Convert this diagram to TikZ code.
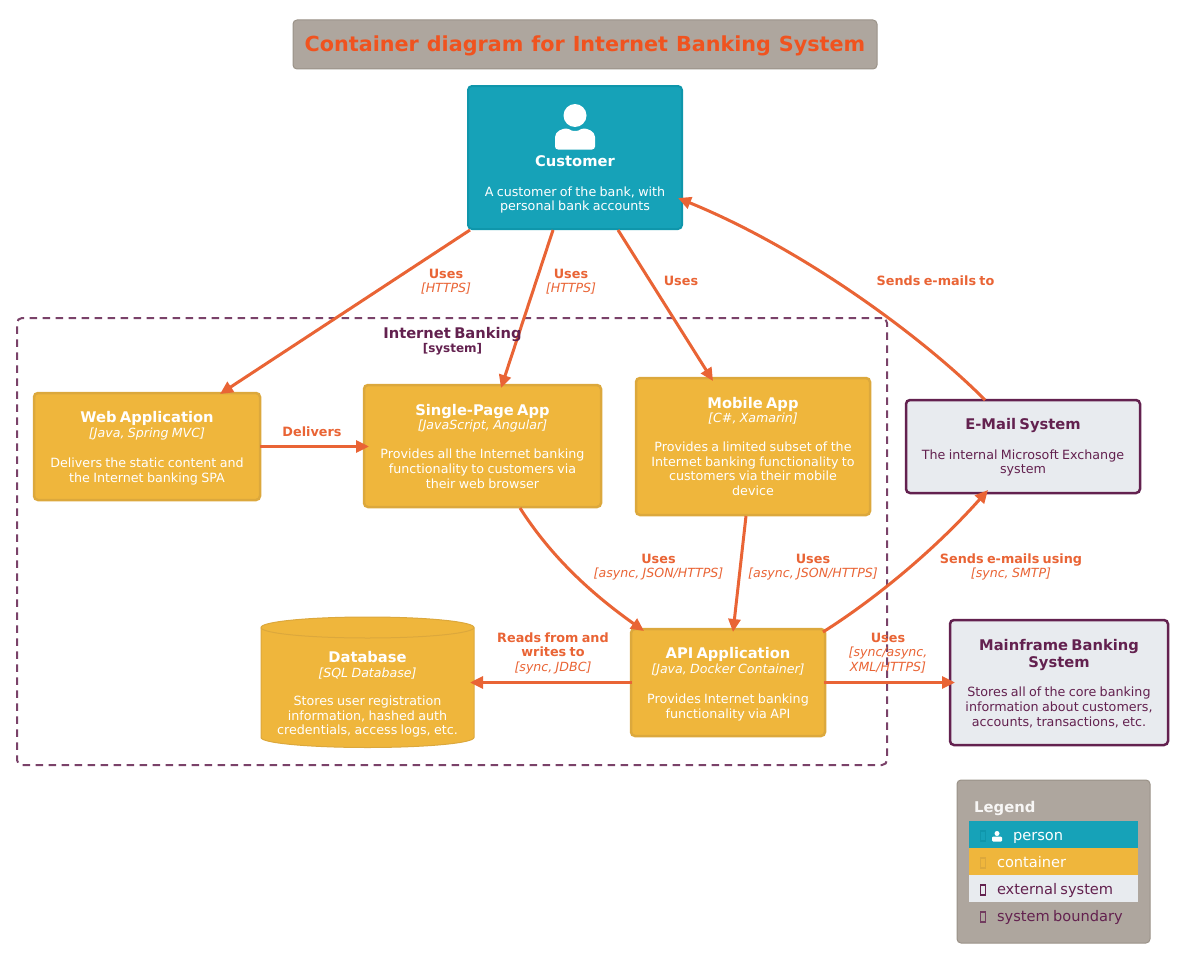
\documentclass[tikz,border=0pt]{standalone}
\usepackage{fontspec}
\setmainfont{DejaVu Sans}[WordSpace=1.1]
\usetikzlibrary{arrows.meta,calc}
\definecolor{teal}{HTML}{16A2B8}
\definecolor{tealb}{HTML}{0F96AB}
\definecolor{gold}{HTML}{EFB63C}
\definecolor{goldb}{HTML}{DCA83C}
\definecolor{ext}{HTML}{E8EBEF}
\definecolor{plum}{HTML}{63214F}
\definecolor{taupe}{HTML}{AEA69E}
\definecolor{taupeb}{HTML}{9A9288}
\definecolor{rust}{HTML}{F0531F}
\definecolor{edge}{HTML}{E96435}
\newcommand{\ttl}[1]{{\fontsize{14.7}{17}\selectfont\bfseries #1\par}}
\newcommand{\tech}[1]{{\fontsize{12.6}{14.5}\selectfont\itshape #1\par}}
\newcommand{\desc}[1]{{\fontsize{12.7}{14.7}\selectfont #1\par}}
\newcommand{\lbl}[1]{{\fontsize{12.8}{14.5}\selectfont\bfseries #1\par}}
\newcommand{\gap}[1]{\vspace{#1}}
\newcommand{\hd}[1]{\rule{0pt}{#1}}
\tikzset{
  x=1pt,y=-1pt,
  base/.style={rounded corners=4pt,inner sep=0pt,outer sep=0pt,align=center,text width=#1},
  person/.style={base=210pt,fill=teal,draw=tealb,line width=2pt,text=white},
  cont/.style={base=225pt,fill=gold,draw=goldb,line width=2.5pt,text=white},
  extn/.style={base=215pt,fill=ext,draw=plum,line width=2.5pt,text=plum},
  rel/.style={draw=edge,line width=3pt,-{Triangle[length=13pt,width=12pt]}},
  rellabel/.style={text=edge,align=center,inner sep=0pt,text width=220pt},
  legrow/.style={minimum width=169pt,minimum height=27pt,inner sep=0pt,outer sep=0pt,text width=169pt,align=left,text height=11pt,text depth=0pt},
  tofu/.style={draw=#1,line width=1.1pt,fill=none,minimum width=5pt,minimum height=10pt,inner sep=0pt},
}
\begin{document}
\begin{tikzpicture}
\useasboundingbox (0,0) rectangle (1178,966);
% boundary
\node[draw=plum!85!white,line width=2pt,dash pattern=on 7.5pt off 5.5pt,rounded corners=5pt,minimum width=870pt,minimum height=447pt,inner sep=0pt,outer sep=0pt] (bnd) at (452,541.5) {};
% title
\node[fill=taupe,draw=taupeb,line width=1pt,rounded corners=4pt,minimum width=584pt,minimum height=49pt,inner sep=0pt,text height=14pt,text depth=0pt] (title) at (585,44.5) {\fontsize{20.72}{24}\selectfont\bfseries\textcolor{rust}{Container diagram for Internet Banking System}};
% person
\node[person,minimum width=214pt,minimum height=143pt] (cust) at (575,157.5) {\rule{0pt}{48pt}\par\ttl{Customer}\gap{15pt}\desc{A customer of the bank, with\\personal bank accounts}};
\fill[white] (575,115.5) circle (11.5);
\fill[white,rounded corners=3pt] (555,149.5) -- (555,140) .. controls (555,131) and (563,128.5) .. (569,128.5) .. controls (572,131) and (578,131) .. (581,128.5) .. controls (587,128.5) and (595,131) .. (595,140) -- (595,149.5) -- cycle;
% containers
\node[cont,minimum width=226pt,minimum height=107pt] (web) at (147,446.5) {\ttl{\hd{15pt}Web Application}\tech{[Java, Spring MVC]}\gap{16pt}\desc{Delivers the static content and\\the Internet banking SPA}};
\node[cont,minimum width=237pt,minimum height=122pt] (spa) at (482.5,446) {\ttl{\hd{12pt}Single-Page App}\gap{-1pt}\tech{[JavaScript, Angular]}\gap{15pt}\desc{Provides all the Internet banking\\functionality to customers via\\their web browser}};
\node[cont,minimum width=234pt,minimum height=137pt] (mob) at (753,446.5) {\ttl{Mobile App}\tech{[C\#, Xamarin]}\gap{14pt}\desc{Provides a limited subset of the\\Internet banking functionality to\\customers via their mobile\\device}};
\node[cont,text width=190pt,minimum width=194pt,minimum height=107pt] (api) at (728,682.5) {\ttl{\hd{15pt}API Application}\tech{[Java, Docker Container]}\gap{16pt}\desc{Provides Internet banking\\functionality via API}};
% database
\fill[gold] (261,627.5) arc[start angle=180,end angle=360,x radius=106.5,y radius=10.5] -- (474,737.5) arc[start angle=0,end angle=180,x radius=106.5,y radius=10] -- cycle;
\draw[goldb,line width=1pt] (261,627.5) arc[start angle=180,end angle=-180,x radius=106.5,y radius=10.5];
\draw[goldb,line width=1pt] (261,627.5) -- (261,737.5) arc[start angle=180,end angle=0,x radius=106.5,y radius=10] -- (474,627.5);
\node[inner sep=0pt,outer sep=0pt,align=center,text=white,text width=213pt,minimum height=110pt] (db) at (367.5,692.5) {\ttl{\hd{15pt}Database}\tech{[SQL Database]}\gap{13.5pt}\desc{Stores user registration\\information, hashed auth\\credentials, access logs, etc.}};
% external
\node[extn,minimum width=234pt,minimum height=93pt] (mail) at (1023,446.5) {\ttl{\hd{13pt}E-Mail System}\gap{15pt}\desc{The internal Microsoft Exchange\\system}};
\node[extn,minimum width=218pt,minimum height=125pt] (main) at (1059,682.5) {\ttl{\hd{13pt}Mainframe Banking\\System}\gap{15pt}\desc{Stores all of the core banking\\information about customers,\\accounts, transactions, etc.}};
% connectors
\draw[rel] ([xshift=-105pt,yshift=-1pt]cust.south) -- ([xshift=73pt,yshift=-1pt]web.north);
\draw[rel] ([xshift=-22pt,yshift=-1pt]cust.south) -- ([xshift=18.5pt,yshift=-3pt]spa.north);
\draw[rel] ([xshift=43pt,yshift=-1pt]cust.south) -- ([xshift=-40pt,yshift=-3pt]mob.north);
\draw[rel] ([xshift=-38pt]mail.north) .. controls +(-55,-56) and +(132,54) .. ([xshift=-4pt,yshift=-40.5pt]cust.east);
\draw[rel] (web.east) -- ([xshift=5pt]web.east -| spa.west);
\draw[rel] ([xshift=37.5pt,yshift=-1pt]spa.south) .. controls +(30,47) and +(-55,-39) .. ([xshift=-84pt,yshift=-2pt]api.north);
\draw[rel] ([xshift=-7pt,yshift=-1pt]mob.south) -- ([xshift=5pt,yshift=-3pt]api.north);
\draw[rel] ([xshift=95pt,yshift=-3pt]api.north) .. controls +(46,-29) and +(-58,65) .. ([xshift=-35pt,yshift=3pt]mail.south);
\draw[rel] ([xshift=1pt]api.west) -- ([xshift=-4pt]api.west -| db.east);
\draw[rel] ([xshift=-1pt]api.east) -- ([xshift=5pt]api.east -| main.west);
% connector labels
\node[rellabel] (l1) at (446,281.5) {\lbl{Uses}\tech{[HTTPS]}};
\node[rellabel] (l2) at (571,281.5) {\lbl{Uses}\tech{[HTTPS]}};
\node[rellabel] (l3) at (681,281) {\lbl{Uses}};
\node[rellabel] (l4) at (935.5,281) {\lbl{Sends e-mails to}};
\node[rellabel] (l5) at (312,431.5) {\lbl{Delivers}};
\node[rellabel] (l6) at (658.5,567) {\lbl{Uses}\tech{[async, JSON/HTTPS]}};
\node[rellabel] (l7) at (813,567) {\lbl{Uses}\tech{[async, JSON/HTTPS]}};
\node[rellabel] (l8) at (1011,567) {\lbl{Sends e-mails using}\tech{[sync, SMTP]}};
\node[rellabel] (l9) at (553,653) {\lbl{Reads from and\\writes to}\tech{[sync, JDBC]}};
\node[rellabel] (l10) at (888,653) {\lbl{Uses}\tech{[sync/async,\\XML/HTTPS]}};
% boundary label
\node[text=plum,align=center,inner sep=0pt,text width=220pt] (bl) at (452.5,341) {\ttl{Internet Banking}{\fontsize{12}{14}\selectfont\bfseries [system]\par}};
% legend
\node[fill=taupe,draw=taupeb,line width=1pt,rounded corners=4pt,minimum width=193pt,minimum height=163pt,inner sep=0pt] (leg) at (1053.5,861.5) {};
\node[anchor=west,inner sep=0pt,text=white!90!taupe] (legt) at (974,808) {\fontsize{14.8}{17}\selectfont\bfseries Legend};
\node[legrow,fill=teal,text=white] (r1) at (1053.5,834.5) {\fontsize{14.6}{16}\selectfont\hspace*{44pt}person};
\node[legrow,fill=gold,text=white] (r2) at (1053.5,861.5) {\fontsize{14.6}{16}\selectfont\hspace*{28pt}container};
\node[legrow,fill=ext,text=plum] (r3) at (1053.5,888.5) {\fontsize{14.6}{16}\selectfont\hspace*{28pt}external system};
\node[legrow,text=plum] (r4) at (1053.5,916) {\fontsize{14.6}{16}\selectfont\hspace*{28pt}system boundary};
\node[tofu=tealb] (t1) at (983,836) {};
\node[tofu=goldb] (t2) at (983,863) {};
\node[tofu=plum] (t3) at (983,890) {};
\node[tofu=plum!80!taupe] (t4) at (983,917) {};
\fill[white] (997,833.5) circle (2.5);
\fill[white,rounded corners=1pt] (992,841.5) -- (992,838.5) .. controls (992,836.5) and (994,836.5) .. (997,836.5) .. controls (1000,836.5) and (1002,836.5) .. (1002,838.5) -- (1002,841.5) -- cycle;
\end{tikzpicture}
\end{document}
